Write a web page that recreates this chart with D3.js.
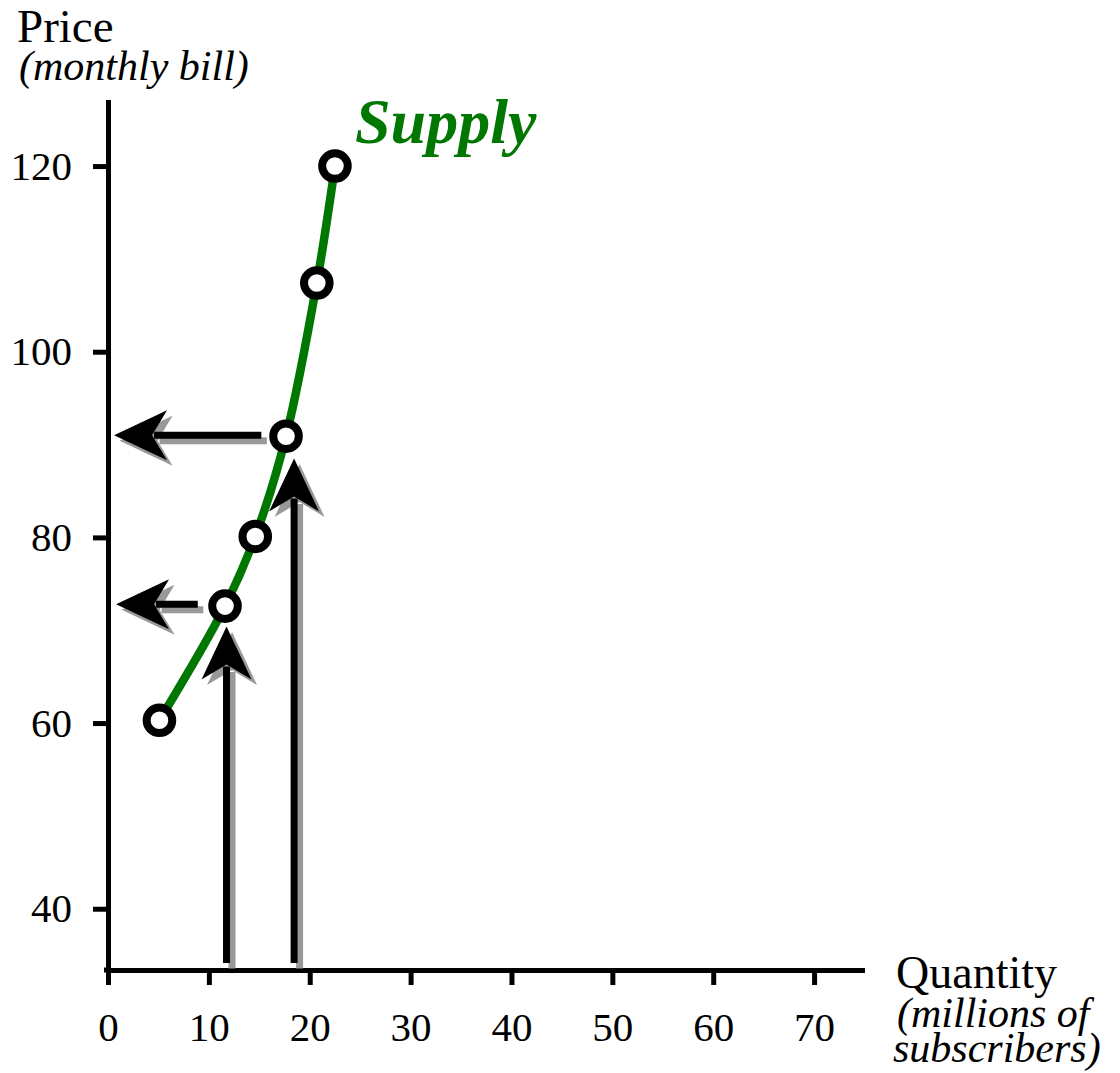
<!DOCTYPE html>
<html><head><meta charset="utf-8">
<script src="https://cdn.jsdelivr.net/npm/d3@7"></script>
<style>
html,body{margin:0;padding:0;background:#fff;}
svg{display:block;font-family:"Liberation Serif","Times New Roman",serif;}
</style></head>
<body>
<svg id="chart" width="1120" height="1073"></svg>
<script>
// ---- data ----
const quantity = [5.1, 11.6, 14.6, 17.65, 20.7, 22.5];
const price = [60.3, 72.6, 80.1, 90.9, 107.4, 120];
const xTicks = [0, 10, 20, 30, 40, 50, 60, 70];
const yTicks = [40, 60, 80, 100, 120];
// arrows: [x1, y1, x2(tip), y2(tip)] in data units
const arrowFromX = [11.75, 18.45, 15.2, 8.9];
const arrowFromY = [34.15, 34.15, 91.0, 72.8];
const arrowToX = [11.75, 18.45, 0.6, 0.8];
const arrowToY = [70.4, 88.5, 91.0, 72.8];
const seriesLabel = "Supply";

const svg = d3.select("#chart");
const x = d3.scaleLinear().domain([0, 74.75]).range([108, 862]);
const y = d3.scaleLinear().domain([33.4, 126.9]).range([970, 102]);

const green = "#007700";
const axisW = 5;
const fontFam = '"Liberation Serif","Times New Roman",serif';

// axes
const xAxis = svg.append("g").attr("transform", "translate(0,970)")
  .call(d3.axisBottom(x).tickValues(xTicks).tickSize(15).tickSizeOuter(0).tickPadding(27).tickFormat(d3.format("d")));
const yAxis = svg.append("g").attr("transform", "translate(108,0)")
  .call(d3.axisLeft(y).tickValues(yTicks).tickSize(15).tickSizeOuter(0).tickPadding(21).tickFormat(d3.format("d")));
[xAxis, yAxis].forEach(g => {
  g.attr("font-family", fontFam);
  g.select(".domain").attr("stroke", "#000").attr("stroke-width", axisW).attr("stroke-linecap", "square");
  g.selectAll(".tick line").attr("stroke", "#000").attr("stroke-width", axisW);
  g.selectAll(".tick text").attr("fill", "#000").style("font-size", "41px").style("font-family", fontFam);
});
svg.append("line").attr("x1", 104).attr("x2", 110).attr("y1", 970).attr("y2", 970)
  .attr("stroke", "#000").attr("stroke-width", axisW);

// supply curve
const pts = quantity.map((q, i) => [x(q), y(price[i])]);
svg.append("path").attr("d", d3.line().curve(d3.curveCatmullRom.alpha(0.5))(pts))
  .attr("fill", "none").attr("stroke", green).attr("stroke-width", 8.5);

// arrows
function arrow(g, x1, y1, x2, y2, color) {
  const dx = x2 - x1, dy = y2 - y1, L = Math.hypot(dx, dy);
  const ux = dx / L, uy = dy / L, nx = -uy, ny = ux;
  const back = 53, notch = 38, half = 25;
  g.append("line").attr("x1", x1).attr("y1", y1)
    .attr("x2", x2 - ux * (notch + 2)).attr("y2", y2 - uy * (notch + 2))
    .attr("stroke", color).attr("stroke-width", 7);
  const p = [
    [x2, y2],
    [x2 - ux * back + nx * half, y2 - uy * back + ny * half],
    [x2 - ux * notch, y2 - uy * notch],
    [x2 - ux * back - nx * half, y2 - uy * back - ny * half]
  ];
  g.append("polygon").attr("points", p.map(d => d.join(",")).join(" ")).attr("fill", color);
}
const arrowsShadow = svg.append("g").attr("transform", "translate(5.5,5.5)");
const arrowsMain = svg.append("g");
arrowFromX.forEach((_, i) => {
  arrow(arrowsShadow, x(arrowFromX[i]), y(arrowFromY[i]), x(arrowToX[i]), y(arrowToY[i]), "#999");
});
arrowFromX.forEach((_, i) => {
  arrow(arrowsMain, x(arrowFromX[i]), y(arrowFromY[i]), x(arrowToX[i]), y(arrowToY[i]), "#000");
});

// points
svg.append("g").selectAll("circle").data(pts).join("circle")
  .attr("cx", d => d[0]).attr("cy", d => d[1]).attr("r", 12.8)
  .attr("fill", "#fff").attr("stroke", "#000").attr("stroke-width", 8);

// labels
svg.append("text").attr("x", 355).attr("y", 143).text(seriesLabel)
  .attr("fill", green).style("font-size", "64px").style("font-weight", "bold").style("font-style", "italic");
svg.append("text").attr("x", 17).attr("y", 42).text("Price").style("font-size", "47px");
svg.append("text").attr("x", 19).attr("y", 80).text("(monthly bill)").style("font-size", "42px").style("font-style", "italic");
svg.append("text").attr("x", 896).attr("y", 988).text("Quantity").style("font-size", "46px");
svg.append("text").attr("x", 897).attr("y", 1027).text("(millions of").style("font-size", "42px").style("font-style", "italic");
svg.append("text").attr("x", 893).attr("y", 1062).text("subscribers)").style("font-size", "42px").style("font-style", "italic");
</script>
</body></html>
